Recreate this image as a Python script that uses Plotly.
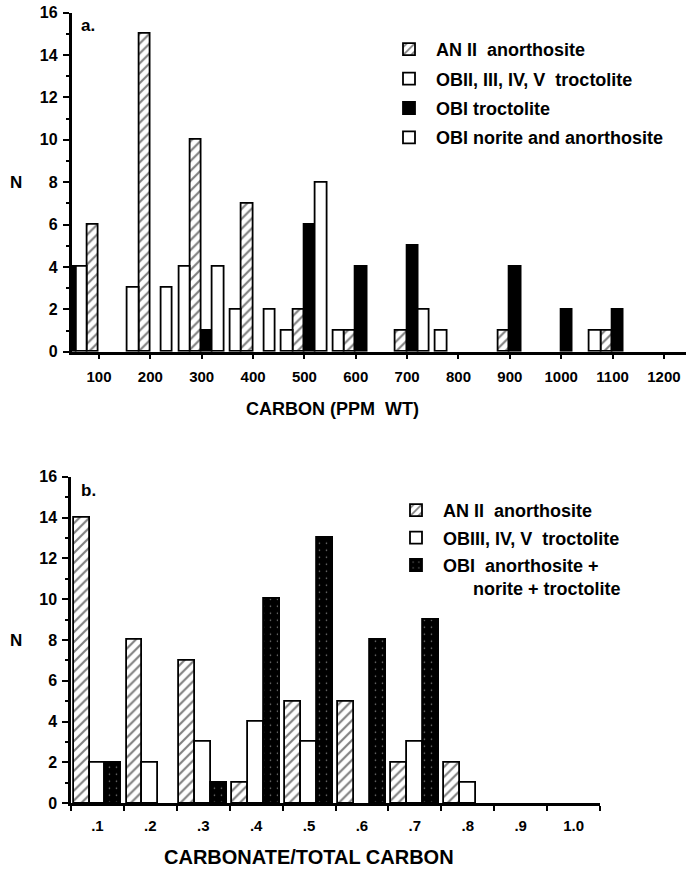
import plotly.graph_objects as go

# ---------------- Panel a : carbon content (ppm wt) ----------------
carbon_bins = [100, 200, 300, 400, 500, 600, 700, 800, 900, 1000, 1100]
carbon_ticks = [100, 200, 300, 400, 500, 600, 700, 800, 900, 1000, 1100, 1200]
anII_a = [6, 15, 10, 7, 2, 1, 1, 0, 1, 0, 1]          # AN II anorthosite
obII_V_a = [4, 3, 4, 2, 1, 1, 0, 1, 0, 0, 1]          # OBII, III, IV, V troctolite
obI_troct_a = [4, 0, 1, 0, 6, 4, 5, 0, 4, 2, 2]       # OBI troctolite
obI_norite_a = [0, 3, 4, 2, 8, 0, 2, 0, 0, 0, 0]      # OBI norite and anorthosite

# ---------------- Panel b : carbonate / total carbon ----------------
ratio_bins = [0.1, 0.2, 0.3, 0.4, 0.5, 0.6, 0.7, 0.8, 0.9, 1.0]
ratio_labels = [".1", ".2", ".3", ".4", ".5", ".6", ".7", ".8", ".9", "1.0"]
anII_b = [14, 8, 7, 1, 5, 5, 2, 2, 0, 0]              # AN II anorthosite
obIII_V_b = [2, 2, 3, 4, 3, 0, 3, 1, 0, 0]            # OBIII, IV, V troctolite
obI_all_b = [2, 0, 1, 10, 13, 8, 9, 0, 0, 0]          # OBI anorthosite + norite + troctolite

# ---------------- styling ----------------
W_A = 22.0            # bar width in panel a (data units)
slot_troct_a = [-3, 0, 0, 0, 0, 0, 0, 0, 0, 0, 0]   # first black bar sits left of its bin
W_B = 0.03            # bar width in panel b
FONT = "Liberation Sans, Arial, Helvetica, sans-serif"
FIG_W, FIG_H = 686, 870


def px(x):
    return x / FIG_W


def py(y):
    return 1 - y / FIG_H


def nonzero(xs, ys, extra=None):
    keep = [i for i, v in enumerate(ys) if v]
    out = [[xs[i] for i in keep], [ys[i] for i in keep]]
    if extra is not None:
        out.append([extra[i] for i in keep])
    return out


LINE = dict(color="black", width=1.8)
HATCH = dict(shape="/", fgcolor="black", bgcolor="white", size=7, solidity=0.3)
DOTS = dict(shape=".", fgcolor="white", bgcolor="black", size=7, solidity=0.04)

fig = go.Figure()

# panel a traces (legend order as in reference)
x, y = nonzero(carbon_bins, anII_a)
fig.add_trace(go.Bar(x=x, y=y, width=W_A, offset=-W_A, name="AN II  anorthosite",
                     marker=dict(color="white", line=LINE, pattern=HATCH),
                     xaxis="x", yaxis="y", legend="legend", legendgroup="a1"))
x, y = nonzero(carbon_bins, obII_V_a)
fig.add_trace(go.Bar(x=x, y=y, width=W_A, offset=-2 * W_A, name="OBII, III, IV, V  troctolite",
                     marker=dict(color="white", line=LINE),
                     xaxis="x", yaxis="y", legend="legend", legendgroup="a2"))
x, y, s = nonzero(carbon_bins, obI_troct_a, slot_troct_a)
fig.add_trace(go.Bar(x=x, y=y, width=W_A, offset=[k * W_A for k in s], name="OBI troctolite",
                     marker=dict(color="black", line=LINE),
                     xaxis="x", yaxis="y", legend="legend", legendgroup="a3"))
x, y = nonzero(carbon_bins, obI_norite_a)
fig.add_trace(go.Bar(x=x, y=y, width=W_A, offset=W_A, name="OBI norite and anorthosite",
                     marker=dict(color="white", line=LINE),
                     xaxis="x", yaxis="y", legend="legend", legendgroup="a4"))

# panel b traces
x, y = nonzero(ratio_bins, anII_b)
fig.add_trace(go.Bar(x=x, y=y, width=W_B, offset=-0.095, name="AN II  anorthosite",
                     marker=dict(color="white", line=LINE, pattern=HATCH),
                     xaxis="x2", yaxis="y2", legend="legend2", legendgroup="b1"))
x, y = nonzero(ratio_bins, obIII_V_b)
fig.add_trace(go.Bar(x=x, y=y, width=W_B, offset=-0.065, name="OBIII, IV, V  troctolite",
                     marker=dict(color="white", line=LINE),
                     xaxis="x2", yaxis="y2", legend="legend2", legendgroup="b2"))
x, y = nonzero(ratio_bins, obI_all_b)
fig.add_trace(go.Bar(x=x, y=y, width=W_B, offset=-0.035,
                     name="OBI  anorthosite +<br>      norite + troctolite",
                     marker=dict(color="black", line=LINE, pattern=DOTS),
                     xaxis="x2", yaxis="y2", legend="legend2", legendgroup="b3"))

tickfont = dict(family=FONT, size=15, color="black", weight="bold")
yfont = dict(family=FONT, size=16, color="black", weight="bold")
legfont = dict(family=FONT, size=18, color="black", weight="bold")
axis_common = dict(showline=True, linecolor="black", linewidth=2.5, showgrid=False,
                   zeroline=False, ticks="outside", tickcolor="black", tickwidth=2,
                   automargin=False)

fig.update_layout(
    width=FIG_W, height=FIG_H, margin=dict(l=0, r=0, t=0, b=0, autoexpand=False),
    paper_bgcolor="white", plot_bgcolor="white", barmode="overlay", bargap=0,
    showlegend=True,
    xaxis=dict(domain=[px(71.5), 1], range=[46.5, 1243], tickvals=carbon_ticks,
               ticklen=5, tickfont=tickfont, anchor="y", ticklabelstandoff=5, **axis_common),
    yaxis=dict(domain=[py(351.7), py(12.7)], range=[0, 16], tickvals=list(range(0, 17, 2)),
               ticklen=6, tickfont=yfont, anchor="x", ticklabelstandoff=2,
               minor=dict(dtick=1, ticklen=3, tickwidth=1.5, ticks="outside", tickcolor="black"),
               **axis_common),
    xaxis2=dict(domain=[px(71), px(600)], range=[0, 1.0],
                tickvals=[b - 0.05 for b in ratio_bins], ticktext=ratio_labels,
                tickfont=tickfont, anchor="y2", ticklabelstandoff=7,
                minor=dict(tickvals=[0] + ratio_bins, ticklen=5, tickwidth=2,
                           ticks="outside", tickcolor="black"),
                **{**axis_common, "ticks": ""}),
    yaxis2=dict(domain=[py(803.3), py(476.7)], range=[0, 16], tickvals=list(range(0, 17, 2)),
                ticklen=6, tickfont=yfont, anchor="x2", ticklabelstandoff=2,
                minor=dict(dtick=1, ticklen=3, tickwidth=1.5, ticks="outside", tickcolor="black"),
                **axis_common),
    legend=dict(x=px(382), y=py(31), xanchor="left", yanchor="top", bgcolor="rgba(0,0,0,0)",
                font=legfont, itemwidth=44, tracegroupgap=3, traceorder="grouped",
                valign="middle"),
    legend2=dict(x=px(389), y=py(492), xanchor="left", yanchor="top", bgcolor="rgba(0,0,0,0)",
                 font=legfont, itemwidth=44, tracegroupgap=1, traceorder="grouped",
                 valign="top"),
)

ann_font = dict(family=FONT, color="black", weight="bold")
annotations = [
    dict(text="a.", x=px(88), y=py(25), size=17),
    dict(text="b.", x=px(88), y=py(490), size=17),
    dict(text="N", x=px(16), y=py(182), size=17),
    dict(text="N", x=px(16), y=py(640), size=17),
    dict(text="CARBON (PPM  WT)", x=px(332), y=py(409), size=18),
    dict(text="CARBONATE/TOTAL CARBON", x=px(309), y=py(857), size=20),
]
fig.update_layout(annotations=[
    dict(text=a["text"], x=a["x"], y=a["y"], xref="paper", yref="paper",
         xanchor="center", yanchor="middle", showarrow=False,
         font=dict(size=a["size"], **ann_font))
    for a in annotations
])

fig.write_html("out.html", config={"displayModeBar": False},
               post_script="document.body.style.margin='0';")
